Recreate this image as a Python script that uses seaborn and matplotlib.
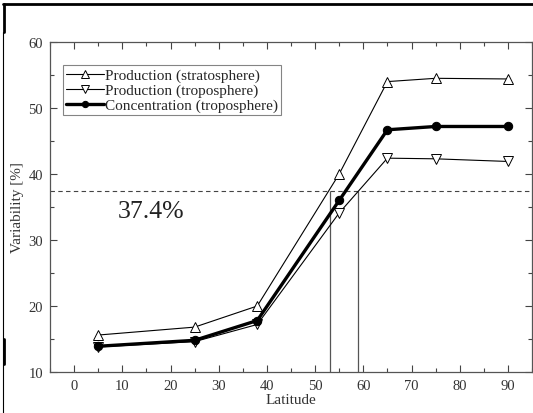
import matplotlib
matplotlib.use("Agg")
import matplotlib.pyplot as plt
import seaborn as sns
import pandas as pd
from matplotlib.lines import Line2D
from matplotlib.ticker import MultipleLocator

latitude = [5, 25, 38, 55, 65, 75, 90]
prod_strat = [15.6, 16.8, 20.0, 40.0, 54.0, 54.5, 54.4]
prod_trop = [13.8, 14.6, 17.2, 34.1, 42.4, 42.3, 41.9]
conc_trop = [13.9, 14.8, 17.8, 36.0, 46.7, 47.2, 47.2]
threshold = 37.4
crossings = [53, 59]
labels = ["Production (stratosphere)", "Production (troposphere)", "Concentration (troposphere)"]

sns.set_style("ticks")
plt.rcParams["font.family"] = ["Liberation Serif", "DejaVu Serif"]

fig = plt.figure(figsize=(5.33, 4.14), dpi=100)
ax = fig.add_axes([50/533, 1-373/414, 482/533, 330/414])

df = pd.DataFrame({"lat": latitude, "s": prod_strat, "t": prod_trop, "c": conc_trop})

sns.lineplot(data=df, x="lat", y="s", ax=ax, color="black", lw=0.8, marker="^",
             markersize=7, markerfacecolor="white", markeredgecolor="black",
             markeredgewidth=0.7, label=labels[0], zorder=3)
sns.lineplot(data=df, x="lat", y="t", ax=ax, color="black", lw=0.8, marker="v",
             markersize=7, markerfacecolor="white", markeredgecolor="black",
             markeredgewidth=0.7, label=labels[1], zorder=3)
sns.lineplot(data=df, x="lat", y="c", ax=ax, color="black", lw=2.4, marker="o",
             markersize=6, markerfacecolor="black", markeredgecolor="black",
             label=labels[2], zorder=4)

ax.axhline(threshold, color="#444444", lw=0.8, dashes=(4, 3), zorder=2)
ax.vlines(crossings, 10, threshold, color="#555555", lw=0.9, zorder=2)
ax.text(9.0, 34.4, "37.4%", fontsize=18.5, va="center", ha="left", color="#222222")

ax.set_xlim(-5, 95)
ax.set_ylim(10, 60)
ax.xaxis.set_major_locator(MultipleLocator(10))
ax.xaxis.set_minor_locator(MultipleLocator(5))
ax.yaxis.set_major_locator(MultipleLocator(10))
ax.yaxis.set_minor_locator(MultipleLocator(5))
ax.tick_params(which="both", direction="in", top=True, right=True, color="#444444",
               labelsize=10.5, labelcolor="#333333", width=0.8)
ax.tick_params(which="major", length=5, pad=5)
ax.tick_params(which="minor", length=3)
ax.set_xlabel("Latitude", fontsize=11, color="#333333", labelpad=1)
ax.set_ylabel("Variability [%]", fontsize=11, color="#333333", labelpad=3)
for sp in ax.spines.values():
    sp.set_color("#555555")
    sp.set_linewidth(0.9)

leg = ax.legend(loc="upper left", bbox_to_anchor=(0.027, 0.93), fontsize=11,
                frameon=True, fancybox=False, edgecolor="#666666", handlelength=2.5,
                handletextpad=0.05, borderpad=0.2, labelspacing=0.08, borderaxespad=0,
                markerscale=0.75)
leg.get_frame().set_linewidth(0.8)

# outer frame lines
fig.add_artist(Line2D([3/533, 1], [1-5/414, 1-5/414], transform=fig.transFigure, color="black", lw=2))
fig.add_artist(Line2D([4/533, 4/533], [1-5/414, 1-33/414], transform=fig.transFigure, color="black", lw=2))
fig.add_artist(Line2D([3/533, 3/533], [0, 1-33/414], transform=fig.transFigure, color="black", lw=0.8))
fig.add_artist(Line2D([4/533, 4/533], [1-340/414, 1-365/414], transform=fig.transFigure, color="black", lw=2))

fig.savefig("out.png", dpi=100)
